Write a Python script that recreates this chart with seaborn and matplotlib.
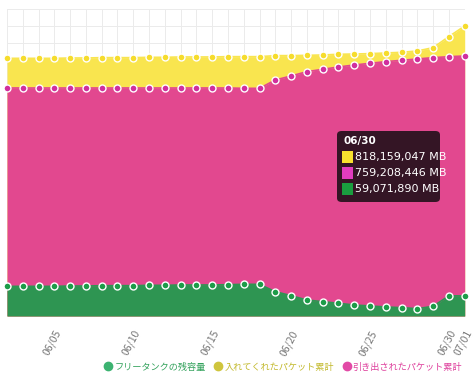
import numpy as np
import pandas as pd
import matplotlib
matplotlib.use("Agg")
import matplotlib.pyplot as plt
from matplotlib.lines import Line2D
from matplotlib.patches import FancyBboxPatch, Rectangle
import seaborn as sns

# data (million MB)
dates = ['06/02', '06/03', '06/04', '06/05', '06/06', '06/07', '06/08', '06/09', '06/10', '06/11',
         '06/12', '06/13', '06/14', '06/15', '06/16', '06/17', '06/18', '06/19', '06/20', '06/21',
         '06/22', '06/23', '06/24', '06/25', '06/26', '06/27', '06/28', '06/29', '06/30', '07/01']
shown_labels = ['06/05', '06/10', '06/15', '06/20', '06/25', '06/30', '07/01']

added_total = [754.4, 754.4, 754.4, 754.4, 755.4, 755.4, 756.4, 756.4, 756.4, 757.4,
               757.4, 758.4, 758.4, 758.4, 759.3, 759.3, 759.3, 762.3, 762.3, 763.2,
               764.2, 766.2, 767.1, 768.1, 770.1, 772.0, 775.9, 785.7, 818.159047, 849.1]
pulled_total = [667.6, 667.6, 667.6, 667.6, 667.6, 667.6, 667.6, 667.6, 667.6, 667.6,
                667.6, 667.6, 667.6, 667.6, 667.6, 666.6, 666.6, 691.0, 702.7, 715.4,
                722.2, 729.1, 734.9, 739.8, 744.7, 748.6, 752.5, 756.4, 759.208446, 761.3]
free_tank = [86.8, 86.8, 86.8, 86.8, 87.8, 87.8, 88.8, 88.8, 88.8, 89.8,
             89.8, 90.8, 90.8, 90.8, 91.7, 92.7, 92.7, 71.2, 59.5, 46.8,
             42.0, 37.1, 32.2, 29.3, 26.4, 24.4, 21.5, 28.3, 59.071890, 58.6]

labels = ['フリータンクの残容量', '入れてくれたパケット累計', '引き出されたパケット累計']

df = pd.DataFrame({'x': range(len(dates)), 'added': added_total,
                   'pulled': pulled_total, 'free': free_tank})

sns.set_style("white")
plt.rcParams['font.family'] = ['Noto Sans CJK JP', 'DejaVu Sans']

fig = plt.figure(figsize=(4.74, 3.8), dpi=100)
ax = fig.add_axes([7 / 474, 64 / 380, 457.7 / 474, 307.4 / 380])

# colours
fill_cols = {'added': '#f9e54f', 'pulled': '#e2488f', 'free': '#2e9552'}
mark_cols = {'added': '#f6dc2c', 'pulled': '#d02f9e', 'free': '#1c9c48'}

for key in ['added', 'pulled', 'free']:
    ax.fill_between(df['x'], 0, df[key], color=fill_cols[key], lw=0, zorder=2)
    sns.lineplot(data=df, x='x', y=key, ax=ax, color=fill_cols[key], lw=1.2,
                 marker='o', markersize=5, markerfacecolor=mark_cols[key],
                 markeredgecolor='white', markeredgewidth=1.0, zorder=3,
                 clip_on=False)

ax.set_xlim(0, len(dates) - 1)
ax.set_ylim(0, 900)
ax.set_xticks(range(len(dates)))
ax.set_xticklabels([d if d in shown_labels else '' for d in dates],
                   rotation=62, ha='right', rotation_mode='anchor',
                   fontsize=7.5, color='#777777')
ax.set_yticks(np.arange(0, 901, 50))
ax.set_yticklabels([])
ax.tick_params(axis='x', length=4, width=0.6, color='#dddddd', pad=5)
ax.tick_params(axis='y', length=0)
ax.grid(True, color='#ebebeb', lw=0.7, zorder=0)
ax.set_axisbelow(True)
ax.set_xlabel('')
ax.set_ylabel('')
for s in ax.spines.values():
    s.set_visible(False)

# legend
leg_cols = ['#3cb371', '#cfc53d', '#e24aa6']
handles = [Line2D([], [], ls='', marker='o', markersize=6, color=c) for c in leg_cols]
fig.legend(handles, labels, loc='center', bbox_to_anchor=(0.596, 0.034),
           ncol=3, frameon=False, fontsize=6.6, handletextpad=0.05,
           columnspacing=0.8, handlelength=1.2,
           labelcolor=['#33a25c', '#c2b92c', '#de3f9c'])

# tooltip for 06/30
tip_x0, tip_y0, tip_w, tip_h = 337 / 474, 1 - 202 / 380, 103 / 474, 71 / 380
fig.patches.append(FancyBboxPatch((tip_x0, tip_y0), tip_w, tip_h,
                                  boxstyle='round,pad=0,rounding_size=0.01',
                                  transform=fig.transFigure, fc='#2a131f',
                                  ec='none', alpha=0.95, zorder=10))
fig.text(343 / 474, 1 - 141 / 380, '06/30', color='white', fontsize=7.5,
         fontweight='bold', va='center', family='DejaVu Sans', zorder=11)
tip_rows = [('#f8e12e', f"{added_total[28] * 1e6:,.0f} MB"),
            ('#e23cbf', f"{pulled_total[28] * 1e6:,.0f} MB"),
            ('#1a9d3f', f"{free_tank[28] * 1e6:,.0f} MB")]
for i, (c, txt) in enumerate(tip_rows):
    yy = 1 - (157 + i * 16) / 380
    fig.patches.append(Rectangle((342 / 474, yy - 6 / 380), 11 / 474, 12 / 380,
                                 transform=fig.transFigure, fc=c, ec='none', zorder=11))
    fig.text(355 / 474, yy, txt, color='white', fontsize=8, va='center',
             family='DejaVu Sans', zorder=11)

fig.savefig('out.png', dpi=100)
